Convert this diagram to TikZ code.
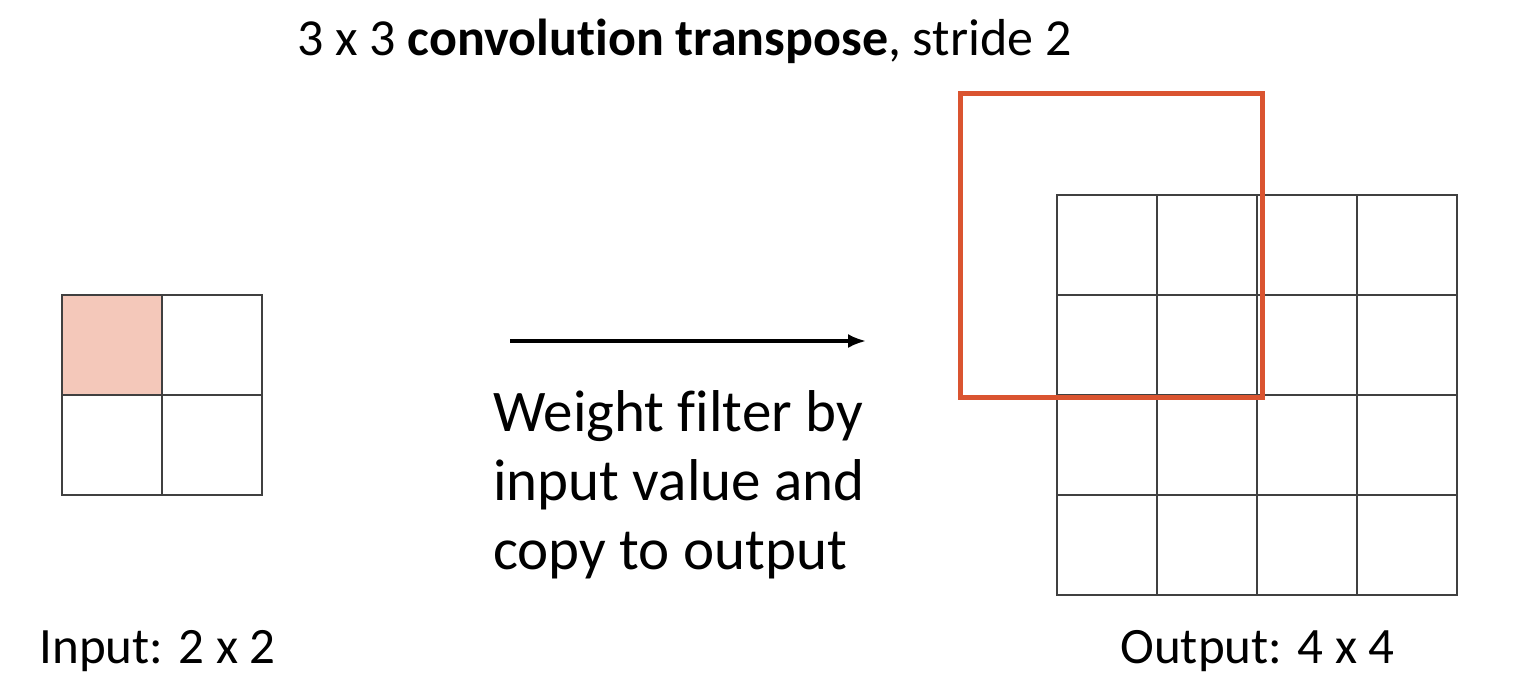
\documentclass[tikz,border=0pt]{standalone}
\usepackage{fontspec}
\setmainfont{Carlito}[Ligatures=NoCommon]
\usetikzlibrary{arrows.meta}
\definecolor{filterred}{HTML}{DA5430}
\definecolor{cellpink}{HTML}{F4C8BA}
\tikzset{
  cell/.style={draw=black!75, line width=0.8pt, minimum size=50pt, inner sep=0pt, outer sep=0pt},
  filterbox/.style={draw=filterred, line width=2.5pt, minimum width=151pt, minimum height=152pt, inner sep=0pt},
  caption/.style={anchor=base west, inner sep=0pt, font=\fontsize{25.5}{30}\selectfont},
}
\begin{document}
\begin{tikzpicture}[x=0.5pt,y=-0.5pt]
    \useasboundingbox (0,0) rectangle (1536,692);

    % title
    \node[anchor=base west, inner sep=0pt, font=\fontsize{26}{30}\selectfont] (title) at (297,55)
        {3 x 3 \textbf{convolution transpose}, stride 2};

    % input 2 x 2
    \foreach \r in {0,1} {
        \foreach \c in {0,1} {
            \node[cell] (in-\r-\c) at ({112+100*\c},{345+100*\r}) {};
        }
    }
    \fill[cellpink] (in-0-0.south west) rectangle (in-0-0.north east);
    \node[cell] at (in-0-0) {};
    \node[caption] (inlabel) at (39,663) {Input: 2 x 2};

    % arrow and explanation
    \coordinate (arrowstart) at (510,341);
    \coordinate (arrowend) at (866,341);
    \draw[line width=1.6pt, -{Latex[length=9pt,width=7pt]}] (arrowstart) -- (arrowend);
    \node[anchor=base west, inner sep=0pt, align=left, font=\fontsize{29.5}{34.5}\selectfont] (explain) at (493,569)
        {Weight filter by\\input value and\\copy to output};

    % output 4 x 4
    \foreach \r in {0,...,3} {
        \foreach \c in {0,...,3} {
            \node[cell] (out-\r-\c) at ({1107+100*\c},{245+100*\r}) {};
        }
    }
    \node[caption] (outlabel) at (1120,663) {Output: 4 x 4};

    % 3 x 3 filter footprint
    \node[filterbox] (filter) at (1111,245) {};

\end{tikzpicture}
\end{document}
